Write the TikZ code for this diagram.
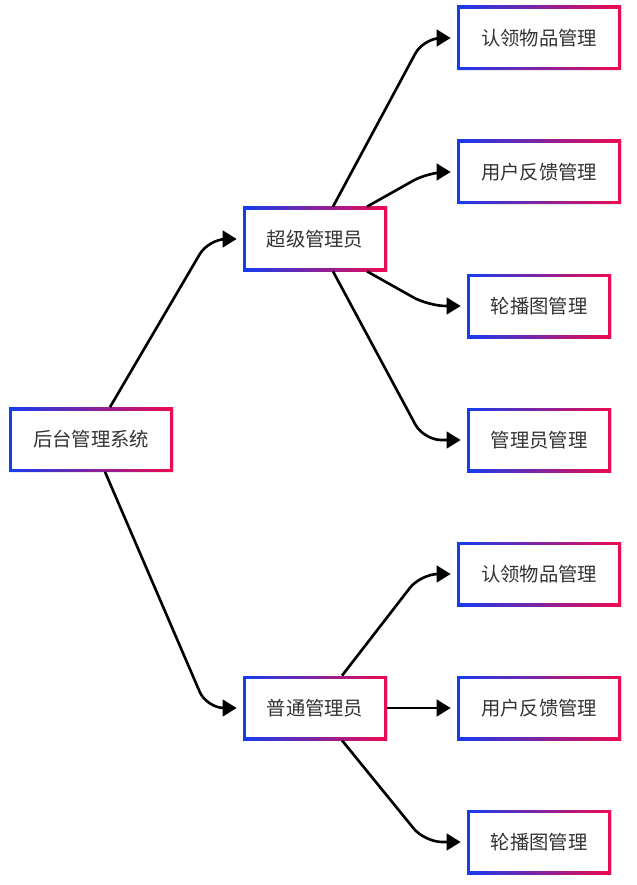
\documentclass[tikz,border=0pt]{standalone}
\usepackage{fontspec}
\newfontfamily\cjk{Noto Sans CJK SC}
\usetikzlibrary{arrows.meta,shadows}
\definecolor{boxblue}{RGB}{20,60,240}
\definecolor{boxred}{RGB}{240,10,80}
\definecolor{textgray}{RGB}{51,51,51}

\begin{document}
\begin{tikzpicture}[
  box/.style={rectangle,minimum height=1.28cm,text=textgray,
    font=\cjk\fontsize{11}{13}\selectfont,
    left color=boxblue,right color=boxred,
    drop shadow={shadow xshift=0.6pt,shadow yshift=-0.6pt,opacity=0.15},
    path picture={\fill[white] ([shift={(0.06cm,0.06cm)}]path picture bounding box.south west)
      rectangle ([shift={(-0.06cm,-0.06cm)}]path picture bounding box.north east);}},
  wide/.style={box,minimum width=3.28cm},
  narrow/.style={box,minimum width=2.88cm},
  edge/.style={line width=1.5pt,rounded corners=0.35cm,
    -{Triangle[length=8pt,width=9.5pt]},shorten >=0.12cm}]
  \useasboundingbox (0,0) rectangle (12.72,-17.7);

  \node[wide] (root) at (1.82,-8.79) {后台管理系统};
  \node[narrow] (super) at (6.30,-4.78) {超级管理员};
  \node[narrow] (normal) at (6.30,-14.16) {普通管理员};

  \node[wide] (s1) at (10.78,-0.76) {认领物品管理};
  \node[wide] (s2) at (10.78,-3.44) {用户反馈管理};
  \node[narrow] (s3) at (10.78,-6.12) {轮播图管理};
  \node[narrow] (s4) at (10.78,-8.80) {管理员管理};

  \node[wide] (n1) at (10.78,-11.48) {认领物品管理};
  \node[wide] (n2) at (10.78,-14.16) {用户反馈管理};
  \node[narrow] (n3) at (10.78,-16.84) {轮播图管理};

  \draw[edge] ([xshift=0.38cm]root.north) -- ([xshift=-0.68cm]super.west) -- (super.west);
  \draw[edge] ([xshift=0.28cm]root.south) -- ([xshift=-0.72cm]normal.west) -- (normal.west);

  \foreach \side/\dx/\to/\cx in {north/0.36/s1/0.66,north/1.04/s2/0.56,
                                 south/1.04/s3/0.76,south/0.36/s4/0.86} {
    \draw[edge] ([xshift=\dx cm]super.\side) -- ([xshift=-\cx cm]\to.west) -- (\to.west);
  }

  \draw[edge] ([xshift=0.54cm]normal.north) -- ([xshift=-0.72cm]n1.west) -- (n1.west);
  \draw[edge] (normal.east) -- (n2.west);
  \draw[edge] ([xshift=0.54cm]normal.south) -- ([xshift=-0.84cm]n3.west) -- (n3.west);
\end{tikzpicture}
\end{document}
